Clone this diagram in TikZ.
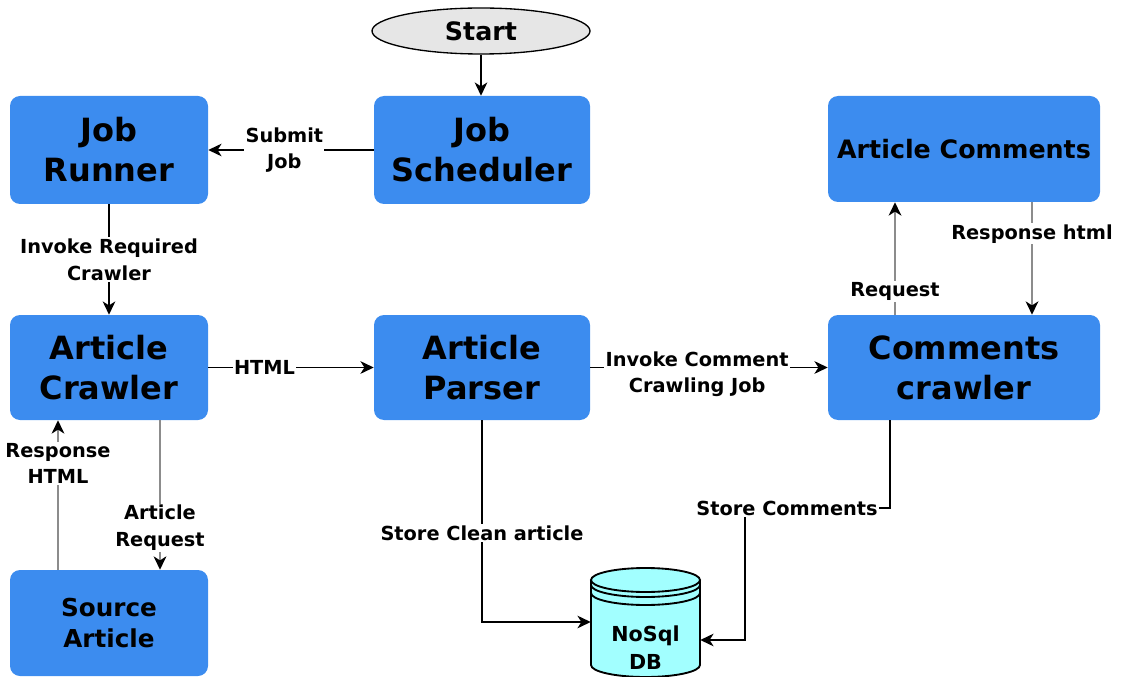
\documentclass[tikz,border=0pt]{standalone}
\usepackage{fontspec}
\setmainfont{DejaVu Sans}[BoldFont={DejaVu Sans Bold}]
\usetikzlibrary{arrows.meta,calc,shapes.geometric}
\definecolor{boxblue}{HTML}{3C8CEF}
\definecolor{dbcyan}{HTML}{A2FFFF}
\definecolor{startgray}{HTML}{E6E6E6}
\definecolor{linegray}{HTML}{8C8C8C}
\tikzset{
  box/.style={rectangle, rounded corners=7.5pt, fill=boxblue, draw=none, inner sep=0pt, align=center, font=\fontsize{24}{30}\selectfont\bfseries},
  smallbox/.style={box, font=\fontsize{19}{24}\selectfont\bfseries},
  lbl/.style={fill=white, inner sep=1pt, align=center, font=\fontsize{14.5}{20}\selectfont\bfseries},
  blk/.style={draw=black, line width=1.1pt, -{Stealth[length=10pt,width=9.5pt,inset=3pt]}},
  gry/.style={draw=linegray, line width=1.6pt, -{Stealth[length=10pt,width=9.5pt,inset=3pt,black]}},
}
\begin{document}
\begin{tikzpicture}[x=0.75pt,y=-0.75pt]
\path[use as bounding box] (0,0) rectangle (1127,677);

% nodes
\node[ellipse, fill=startgray, draw=black, line width=1pt, minimum width=218*0.75pt, minimum height=46*0.75pt, inner sep=0pt, font=\fontsize{19}{24}\selectfont\bfseries] (start) at (481,31) {Start};
\node[box, minimum width=198*0.75pt, minimum height=108*0.75pt] (runner) at (109,150) {Job\\Runner};
\node[box, minimum width=216*0.75pt, minimum height=108*0.75pt] (sched) at (482,150) {Job\\Scheduler};
\node[smallbox, minimum width=272*0.75pt, minimum height=106*0.75pt] (acomm) at (964,149) {Article Comments};
\node[box, minimum width=198*0.75pt, minimum height=105*0.75pt] (crawler) at (109,367.5) {Article\\Crawler};
\node[box, minimum width=216*0.75pt, minimum height=105*0.75pt] (parser) at (482,367.5) {Article\\Parser};
\node[box, minimum width=272*0.75pt, minimum height=105*0.75pt] (ccrawl) at (964,367.5) {Comments\\crawler};
\node[smallbox, font=\fontsize{18.5}{23}\selectfont\bfseries, minimum width=198*0.75pt, minimum height=106*0.75pt] (source) at (109,623) {Source\\Article};

% database cylinder
\path[fill=dbcyan, draw=black, line width=1.4pt] (591,580) -- (591,665) arc[start angle=180, end angle=0, x radius=54.5, y radius=12] -- (700,580);
\draw[fill=dbcyan, line width=1.4pt] (645.5,580) ellipse[x radius=54.5, y radius=12];
\draw[line width=1.4pt] (591,585) arc[start angle=180, end angle=0, x radius=54.5, y radius=12];
\draw[line width=1.4pt] (591,593) arc[start angle=180, end angle=0, x radius=54.5, y radius=12];
\node[rectangle, draw=none, minimum width=109*0.75pt, minimum height=109*0.75pt, inner sep=0pt] (db) at (645.5,622) {};
\node[align=center, inner sep=0pt, font=\fontsize{15.5}{21}\selectfont\bfseries] (dbtext) at (645.5,648) {NoSql\\DB};

\coordinate (sc1) at (745,508);

% connectors
\draw[blk] (start.south) -- (start.south |- sched.north);
\draw[blk] (sched.west) -- node[lbl, pos=0.54]{Submit\\Job} (runner.east);
\draw[blk] (runner.south) -- node[lbl]{Invoke Required\\Crawler} (crawler.north);
\draw[blk] (crawler.east) -- node[lbl, pos=0.34]{HTML} (parser.west);
\draw[blk] (parser.east) -- node[lbl, pos=0.45, yshift=-5pt]{Invoke Comment\\Crawling Job} (ccrawl.west);

\draw[gry] ($(ccrawl.north)+(-69,0)$) -- node[lbl, pos=0.21]{Request} ($(acomm.south)+(-69,0)$);
\draw[gry] ($(acomm.south)+(68,0)$) -- node[lbl, pos=0.28]{Response html} ($(ccrawl.north)+(68,0)$);
\draw[gry] ($(crawler.south)+(51,0)$) -- node[lbl, pos=0.72]{Article\\Request} ($(source.north)+(51,0)$);
\draw[gry] ($(source.north)+(-51,0)$) -- node[lbl, pos=0.71]{Response\\HTML} ($(crawler.south)+(-51,0)$);

\draw[blk] (parser.south) |- node[lbl, pos=0.28]{Store Clean article} (db.west);
\draw[blk] ($(ccrawl.south)+(-74,0)$) |- node[lbl, pos=0.855]{Store Comments} (sc1) |- ($(db.east)+(0,18)$);
\end{tikzpicture}
\end{document}
